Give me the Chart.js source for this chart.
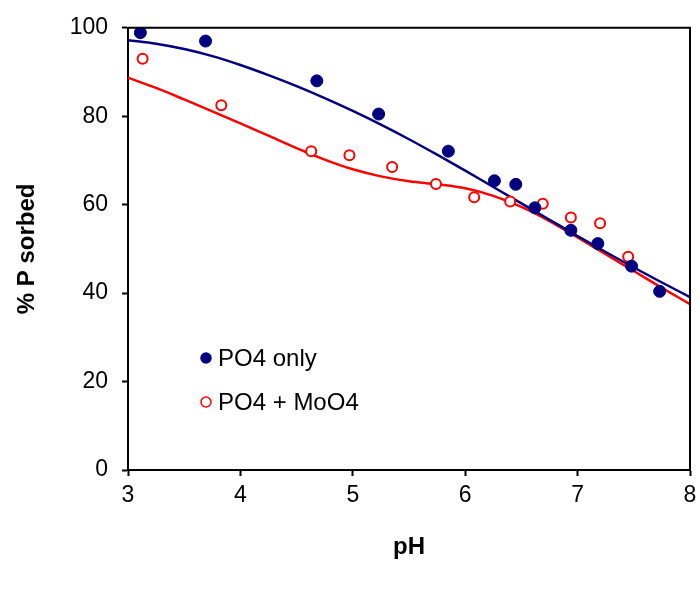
<!DOCTYPE html>
<html>
<head>
<meta charset="utf-8">
<title>% P sorbed vs pH</title>
<script src="https://cdn.jsdelivr.net/npm/chart.js@4/dist/chart.umd.min.js"></script>
<style>
  html, body { margin: 0; padding: 0; background: #fff; }
  #wrap { width: 700px; height: 590px; }
</style>
</head>
<body>
<div id="wrap"><canvas id="grafica"></canvas></div>
<script>
'use strict'

//datos medidos - PO4 solo
const phBlue = [ 3.11, 3.69, 4.68, 5.23, 5.85, 6.26, 6.45, 6.62, 6.94, 7.18, 7.48, 7.73 ];
const sorbedBlue = [ 98.9, 97.0, 88.0, 80.5, 72.1, 65.4, 64.6, 59.3, 54.2, 51.2, 46.1, 40.4 ];

//datos medidos - PO4 + MoO4
const phRed = [ 3.13, 3.83, 4.63, 4.97, 5.35, 5.74, 6.08, 6.40, 6.69, 6.94, 7.20, 7.45 ];
const sorbedRed = [ 93.0, 82.5, 72.1, 71.2, 68.5, 64.7, 61.7, 60.7, 60.2, 57.1, 55.8, 48.2 ];

//curvas ajustadas
const phFit = [ 3, 3.25, 3.5, 3.75, 4, 4.25, 4.5, 4.75, 5, 5.25, 5.5, 5.75, 6, 6.25, 6.5, 6.75, 7, 7.25, 7.5, 7.75, 8 ];
const fitBlue = [ 97.2, 96.4, 95.2, 93.6, 91.6, 89.3, 86.8, 84.1, 81.2, 78.1, 74.8, 71.3, 67.7, 64.0, 60.3, 56.6, 52.9, 49.3, 45.8, 42.4, 39.1 ];
const fitRed = [ 88.7, 86.4, 83.8, 81.1, 78.4, 75.6, 72.8, 70.2, 68.0, 66.4, 65.3, 64.6, 63.7, 62.0, 59.5, 56.3, 52.6, 48.8, 45.0, 41.2, 37.5 ];

//nombres de las series y ticks
const seriesNames = [ 'PO4 only', 'PO4 + MoO4' ];
const xTicks = [ 3, 4, 5, 6, 7, 8 ];
const yTicks = [ 0, 20, 40, 60, 80, 100 ];

const NAVY = '#000080';
const RED = '#ff0000';
const FONT = "'Liberation Sans', Arial, sans-serif";

function pares( xs, ys )
{
  return xs.map( ( x, i ) => ({ x: x, y: ys[ i ] }) );
}

//marco completo alrededor del area
const marco =
{
  id: 'marco',
  afterDatasetsDraw( chart )
  {
    const { ctx, chartArea: a } = chart;
    ctx.save();
    ctx.strokeStyle = '#000';
    ctx.lineWidth = 2;
    ctx.beginPath();
    ctx.moveTo( a.left, a.top );
    ctx.lineTo( a.right, a.top );
    ctx.lineTo( a.right, a.bottom );
    ctx.stroke();
    ctx.restore();
  }
};

//leyenda dentro del grafico
const leyenda =
{
  id: 'leyenda',
  afterDraw( chart )
  {
    const { ctx } = chart;
    const items =
    [
      { ds: chart.data.datasets[ 0 ], y: 358 },
      { ds: chart.data.datasets[ 1 ], y: 402 }
    ];
    ctx.save();
    items.forEach( it =>
    {
      ctx.beginPath();
      ctx.arc( 206, it.y, 5, 0, Math.PI * 2 );
      ctx.fillStyle = it.ds.backgroundColor;
      ctx.fill();
      ctx.lineWidth = 1.5;
      ctx.strokeStyle = it.ds.borderColor;
      ctx.stroke();

      ctx.fillStyle = '#000';
      ctx.font = '24px ' + FONT;
      ctx.textAlign = 'left';
      ctx.textBaseline = 'middle';
      ctx.fillText( it.ds.label, 218, it.y + 1 );
    });
    ctx.restore();
  }
};

const data =
{
  datasets:
  [
    {
      label: seriesNames[ 0 ],
      type: 'scatter',
      data: pares( phBlue, sorbedBlue ),
      backgroundColor: NAVY,
      borderColor: NAVY,
      pointRadius: 6,
      pointBorderWidth: 1,
      showLine: false
    },
    {
      label: seriesNames[ 1 ],
      type: 'scatter',
      data: pares( phRed, sorbedRed ),
      backgroundColor: '#ffffff',
      borderColor: RED,
      pointRadius: 5,
      pointBorderWidth: 2,
      showLine: false
    },
    {
      label: 'fit1',
      type: 'line',
      data: pares( phFit, fitBlue ),
      borderColor: NAVY,
      borderWidth: 2.5,
      pointRadius: 0,
      cubicInterpolationMode: 'monotone',
      fill: false
    },
    {
      label: 'fit2',
      type: 'line',
      data: pares( phFit, fitRed ),
      borderColor: RED,
      borderWidth: 2.5,
      pointRadius: 0,
      cubicInterpolationMode: 'monotone',
      fill: false
    }
  ]
};

const options =
{
  responsive: true,
  maintainAspectRatio: false,
  animation: false,
  layout: { padding: { left: 0, top: 25, right: 10, bottom: 0 } },
  plugins:
  {
    legend: { display: false },
    tooltip: { enabled: false }
  },
  scales:
  {
    x:
    {
      type: 'linear',
      min: 3,
      max: 8,
      afterBuildTicks: scale => { scale.ticks = xTicks.map( v => ({ value: v }) ); },
      afterFit: scale =>
      {
        scale.height = 120;
        scale.paddingRight = 0;
        scale.paddingLeft = 0;
      },
      border: { display: true, color: '#000', width: 2 },
      grid: { drawOnChartArea: false, drawTicks: true, tickLength: 6, tickWidth: 2, tickColor: '#000' },
      ticks: { color: '#000', font: { family: FONT, size: 23 }, padding: 6, maxRotation: 0 },
      title:
      {
        display: true,
        text: 'pH',
        color: '#000',
        font: { family: FONT, size: 24, weight: 'bold' },
        padding: { top: 0, bottom: 28 }
      }
    },
    y:
    {
      type: 'linear',
      min: 0,
      max: 100,
      afterBuildTicks: scale => { scale.ticks = yTicks.map( v => ({ value: v }) ); },
      afterFit: scale => { scale.width = 128; },
      border: { display: true, color: '#000', width: 2 },
      grid: { drawOnChartArea: false, drawTicks: true, tickLength: 6, tickWidth: 2, tickColor: '#000' },
      ticks: { color: '#000', font: { family: FONT, size: 23 }, padding: 14 },
      title:
      {
        display: true,
        text: '% P sorbed',
        color: '#000',
        font: { family: FONT, size: 24, weight: 'bold' },
        padding: { top: 13, bottom: 0 }
      }
    }
  }
};

//creacion de la grafica
new Chart( document.getElementById( 'grafica' ),
{
  type: 'scatter',
  data: data,
  options: options,
  plugins: [ marco, leyenda ]
});
</script>
</body>
</html>
